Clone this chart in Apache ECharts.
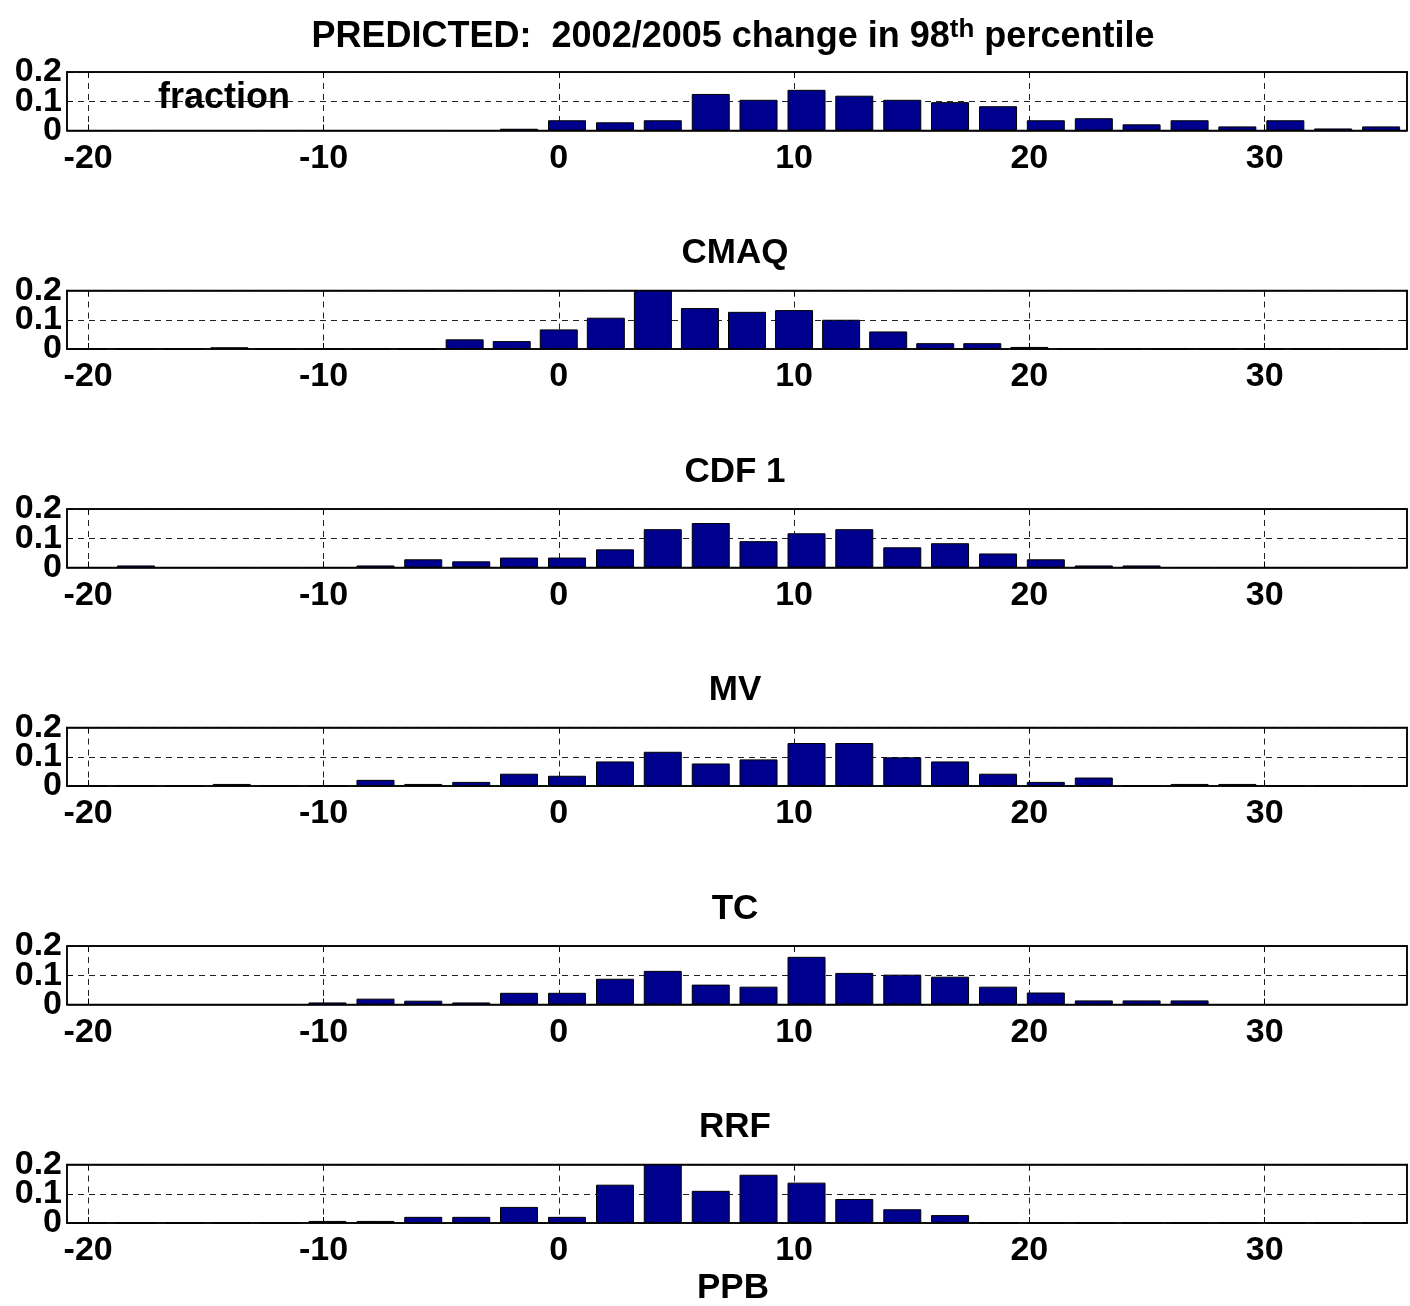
<!DOCTYPE html>
<html>
<head>
<meta charset="utf-8">
<script src="https://cdn.jsdelivr.net/npm/echarts@6/dist/echarts.min.js"></script>
<style>
  html, body { margin: 0; padding: 0; background: #fff; }
  #chart { width: 1410px; height: 1306px; }
</style>
</head>
<body>
<div id="chart"></div>
<script>
// Bin centres (PPB) of the 28-bin histograms
const binCenters = [-20.00, -17.97, -15.93, -13.90, -11.86, -9.83, -7.79, -5.76, -3.72, -1.69,
  0.35, 2.39, 4.42, 6.46, 8.49, 10.53, 12.56, 14.60, 16.63, 18.67,
  20.70, 22.74, 24.77, 26.81, 28.84, 30.88, 32.91, 34.95];
const cmaqCenters = [-20, -18, -16, -14, -12, -10, -8, -6, -4, -2,
  0, 2, 4, 6, 8, 10, 12, 14, 16, 18,
  20, 22, 24, 26, 28, 30, 32, 34];

// Fraction of sites in each bin
const predicted = [0, 0, 0, 0, 0, 0, 0, 0, 0, 0.006,
  0.035, 0.028, 0.035, 0.125, 0.105, 0.139, 0.119, 0.105, 0.097, 0.083,
  0.035, 0.042, 0.021, 0.035, 0.014, 0.035, 0.007, 0.014];
const cmaq = [0, 0, 0, 0.006, 0, 0, 0, 0, 0.033, 0.027,
  0.067, 0.107, 0.2, 0.14, 0.127, 0.133, 0.1, 0.06, 0.02, 0.02,
  0.007, 0, 0, 0, 0, 0, 0, 0];
const cdf1 = [0, 0.007, 0, 0, 0, 0, 0.007, 0.028, 0.021, 0.034,
  0.034, 0.062, 0.131, 0.152, 0.090, 0.117, 0.131, 0.069, 0.083, 0.048,
  0.028, 0.007, 0.007, 0, 0, 0, 0, 0];
const mv = [0, 0, 0, 0.007, 0, 0, 0.021, 0.007, 0.014, 0.042,
  0.035, 0.084, 0.117, 0.077, 0.091, 0.147, 0.147, 0.098, 0.084, 0.042,
  0.014, 0.029, 0, 0.007, 0.007, 0, 0, 0];
const tc = [0, 0, 0, 0, 0, 0.007, 0.02, 0.013, 0.007, 0.04,
  0.04, 0.088, 0.115, 0.068, 0.061, 0.163, 0.108, 0.102, 0.095, 0.061,
  0.041, 0.014, 0.014, 0.014, 0, 0, 0, 0];
const rrf = [0, 0, 0, 0, 0, 0.007, 0.007, 0.021, 0.021, 0.055,
  0.021, 0.131, 0.2, 0.11, 0.165, 0.138, 0.082, 0.047, 0.027, 0,
  0, 0, 0, 0, 0, 0, 0, 0];

const xTicks = [-20, -10, 0, 10, 20, 30];
const yTicksOuter = [0, 0.2];   // labelled at the ends of the y axis
const yTicksInner = [0.1];      // labelled in the middle
const panelTitles = ['', 'CMAQ', 'CDF 1', 'MV', 'TC', 'RRF'];
const mainTitle = ['PREDICTED:  2002/2005 change in 98', 'th', ' percentile'];
const yName = 'fraction';
const xName = 'PPB';

const panels = [
  { centers: binCenters, values: predicted },
  { centers: cmaqCenters, values: cmaq },
  { centers: binCenters, values: cdf1 },
  { centers: binCenters, values: mv },
  { centers: binCenters, values: tc },
  { centers: binCenters, values: rrf }
];

const FONT = '"Liberation Sans", Arial, Helvetica, sans-serif';
const gridLeft = 67, gridWidth = 1340, gridHeight = 58.5;
const gridTops = [72, 290.5, 509, 727.5, 946, 1164.5];
const xMin = -20.9, xMax = 36.05;
const barColor = '#00008f';
const dash = [6, 5];
const tickFont = 34;

const grids = [], xAxes = [], yAxes = [], series = [], graphics = [];

const yLabel = (values) => ({
  customValues: values, showMinLabel: true, showMaxLabel: true,
  color: '#000', fontFamily: FONT, fontWeight: 'bold', fontSize: tickFont, margin: 5,
  formatter: v => (v === 0 ? '0' : v.toFixed(1))
});

panels.forEach((p, i) => {
  grids.push({
    left: gridLeft, top: gridTops[i], width: gridWidth, height: gridHeight,
    show: true, borderColor: '#000', borderWidth: 1.5, backgroundColor: '#fff'
  });
  // bottom axis with labels and vertical dashed grid
  xAxes.push({
    gridIndex: i, type: 'value', position: 'bottom', min: xMin, max: xMax,
    axisLine: { show: true, onZero: false, lineStyle: { color: '#000', width: 1.5 } },
    axisTick: { show: true, inside: true, length: 6, customValues: xTicks, lineStyle: { color: '#000' } },
    axisLabel: {
      customValues: xTicks, color: '#000', fontFamily: FONT, fontWeight: 'bold',
      fontSize: tickFont, margin: 11
    },
    splitLine: { show: true, lineStyle: { color: '#222', width: 1, type: dash } }
  });
  // top axis: tick marks only
  xAxes.push({
    gridIndex: i, type: 'value', position: 'top', min: xMin, max: xMax,
    axisLine: { show: true, onZero: false, lineStyle: { color: '#000', width: 1.5 } },
    axisTick: { show: true, inside: true, length: 6, customValues: xTicks, lineStyle: { color: '#000' } },
    axisLabel: { show: false },
    splitLine: { show: false }
  });
  // left axis: line, ticks, dashed 0.1 grid line and the end labels
  yAxes.push({
    gridIndex: i, type: 'value', position: 'left', min: 0, max: 0.2, interval: 0.1,
    axisLine: { show: true, onZero: false, lineStyle: { color: '#000', width: 1.5 } },
    axisTick: { show: true, inside: true, length: 6, lineStyle: { color: '#000' } },
    axisLabel: yLabel(yTicksOuter),
    splitLine: { show: true, lineStyle: { color: '#222', width: 1, type: dash } }
  });
  // left axis: middle label
  yAxes.push({
    gridIndex: i, type: 'value', position: 'left', min: 0, max: 0.2, interval: 0.1,
    axisLine: { show: false, onZero: false },
    axisTick: { show: false },
    axisLabel: yLabel(yTicksInner),
    splitLine: { show: false }
  });
  // right axis: tick marks only
  yAxes.push({
    gridIndex: i, type: 'value', position: 'right', min: 0, max: 0.2, interval: 0.1,
    axisLine: { show: true, onZero: false, lineStyle: { color: '#000', width: 1.5 } },
    axisTick: { show: true, inside: true, length: 6, lineStyle: { color: '#000' } },
    axisLabel: { show: false },
    splitLine: { show: false }
  });
  series.push({
    type: 'bar',
    xAxisIndex: 2 * i, yAxisIndex: 3 * i,
    barWidth: 38,
    data: p.centers.map((c, k) => [c, p.values[k]]),
    itemStyle: { color: barColor, borderColor: '#000', borderWidth: 1 },
    silent: true
  });
  if (panelTitles[i]) {
    graphics.push({
      type: 'text', x: 735, y: gridTops[i] - 37,
      style: {
        text: panelTitles[i], fill: '#000', fontFamily: FONT, fontWeight: 'bold',
        fontSize: 35, align: 'center', verticalAlign: 'middle'
      }
    });
  }
});

// main title with superscript
graphics.push({
  type: 'text', x: 733, y: 36,
  style: {
    text: '{m|' + mainTitle[0] + '}{s|' + mainTitle[1] + '}{m|' + mainTitle[2] + '}',
    align: 'center', verticalAlign: 'middle',
    rich: {
      m: { fontFamily: FONT, fontWeight: 'bold', fontSize: 36, lineHeight: 38, fill: '#000', verticalAlign: 'bottom' },
      s: { fontFamily: FONT, fontWeight: 'bold', fontSize: 26, lineHeight: 26, padding: [0, 0, 22, 0], fill: '#000', verticalAlign: 'top' }
    }
  }
});
// y label inside first panel
graphics.push({
  type: 'text', x: 158, y: 98,
  style: {
    text: yName, fill: '#000', fontFamily: FONT, fontWeight: 'bold', fontSize: 36,
    align: 'left', verticalAlign: 'middle'
  },
  z: 10
});
// x axis name
graphics.push({
  type: 'text', x: 733, y: 1288,
  style: {
    text: xName, fill: '#000', fontFamily: FONT, fontWeight: 'bold', fontSize: 35,
    align: 'center', verticalAlign: 'middle'
  }
});

const chart = echarts.init(document.getElementById('chart'), null, { renderer: 'canvas' });
chart.setOption({
  animation: false,
  backgroundColor: '#fff',
  grid: grids,
  xAxis: xAxes,
  yAxis: yAxes,
  series: series,
  graphic: graphics
});
</script>
</body>
</html>
